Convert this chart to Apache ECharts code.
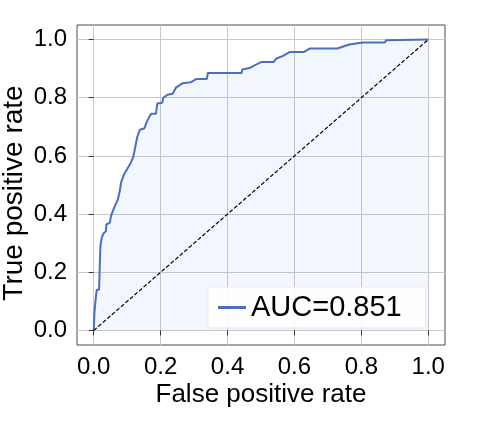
<!DOCTYPE html>
<html>
<head>
<meta charset="utf-8">
<script src="https://cdn.jsdelivr.net/npm/echarts@6/dist/echarts.min.js"></script>
<style>
  html, body { margin: 0; padding: 0; background: #fff; }
  #chart { width: 485px; height: 425px; }
</style>
</head>
<body>
<div id="chart"></div>
<script>
// ROC curve points: [false positive rate, true positive rate]
const rocPoints = [
  [0, 0], [0.002, 0.06], [0.006, 0.11], [0.009, 0.14], [0.016, 0.14],
  [0.018, 0.22], [0.02, 0.29], [0.024, 0.32], [0.03, 0.335], [0.036, 0.34],
  [0.038, 0.365], [0.048, 0.37], [0.052, 0.395], [0.062, 0.425], [0.072, 0.45],
  [0.078, 0.48], [0.082, 0.51], [0.09, 0.535], [0.1, 0.555], [0.11, 0.575],
  [0.118, 0.595], [0.124, 0.63], [0.13, 0.665], [0.138, 0.69], [0.152, 0.695],
  [0.156, 0.71], [0.164, 0.73], [0.172, 0.745], [0.186, 0.745], [0.19, 0.78],
  [0.205, 0.783], [0.208, 0.8], [0.22, 0.81], [0.236, 0.814], [0.246, 0.835],
  [0.266, 0.85], [0.29, 0.853], [0.306, 0.864], [0.338, 0.864], [0.341, 0.885],
  [0.442, 0.885], [0.444, 0.897], [0.466, 0.902], [0.482, 0.912], [0.502, 0.923],
  [0.538, 0.923], [0.546, 0.935], [0.566, 0.944], [0.585, 0.957], [0.628, 0.957],
  [0.63, 0.962], [0.645, 0.969], [0.728, 0.969], [0.73, 0.975], [0.764, 0.983],
  [0.804, 0.99], [0.87, 0.99], [0.874, 0.998], [1, 1]
];
// chance line
const diagonal = [[0, 0], [1, 1]];
const tickValues = [0, 0.2, 0.4, 0.6, 0.8, 1.0];
const aucLabel = "AUC=0.851";

const font = "Liberation Sans, Arial, sans-serif";

const chart = echarts.init(document.getElementById("chart"));

const axisCommon = {
  type: "value",
  min: -0.05,
  max: 1.05,
  nameLocation: "middle",
  nameMoveOverlap: false,
  nameTextStyle: { color: "#000", fontSize: 26, fontFamily: font },
  axisLine: { show: false },
  axisTick: {
    show: true,
    length: 5,
    customValues: tickValues,
    lineStyle: { color: "#333", width: 1 },
  },
  axisLabel: {
    customValues: tickValues,
    color: "#000",
    fontSize: 24,
    fontFamily: font,
    formatter: (v) => v.toFixed(1),
  },
  splitLine: {
    show: true,
    lineStyle: { color: "#c8c8c8", width: 1 },
  },
};

const option = {
  animation: false,
  grid: {
    left: 77,
    top: 25,
    width: 368,
    height: 320,
    outerBoundsMode: "none",
    containLabel: false,
    show: true,
    borderColor: "#4a4a4a",
    borderWidth: 1,
    backgroundColor: "transparent",
  },
  xAxis: Object.assign({}, axisCommon, {
    name: "False positive rate",
    nameGap: 37,
    axisLabel: Object.assign({}, axisCommon.axisLabel, { margin: 10 }),
  }),
  yAxis: Object.assign({}, axisCommon, {
    name: "True positive rate",
    nameGap: 49,
    nameTextStyle: {
      color: "#000",
      fontSize: 28,
      fontFamily: font,
      padding: [0, 16, 0, 0],
    },
    axisLabel: Object.assign({}, axisCommon.axisLabel, { margin: 10 }),
  }),
  legend: {
    left: 208,
    top: 287,
    orient: "horizontal",
    padding: [6, 24, 6, 10],
    backgroundColor: "rgba(255,255,255,0.85)",
    borderColor: "rgba(230,230,230,0.8)",
    borderWidth: 1,
    borderRadius: 2,
    itemWidth: 28,
    itemHeight: 3,
    textStyle: { color: "#000", fontSize: 29, fontFamily: font },
    data: [{ name: aucLabel, icon: "rect" }],
  },
  series: [
    {
      name: aucLabel,
      type: "line",
      data: rocPoints,
      showSymbol: false,
      symbol: "none",
      lineStyle: { color: "#4C6EC0", width: 2 },
      itemStyle: { color: "#4C6EC0" },
      areaStyle: { color: "rgba(110,165,230,0.12)", origin: "auto" },
      z: 3,
    },
    {
      name: "chance",
      type: "line",
      data: diagonal,
      showSymbol: false,
      symbol: "none",
      lineStyle: { color: "#000", width: 1.2, type: [4, 2] },
      z: 4,
    },
  ],
};

chart.setOption(option);
</script>
</body>
</html>
